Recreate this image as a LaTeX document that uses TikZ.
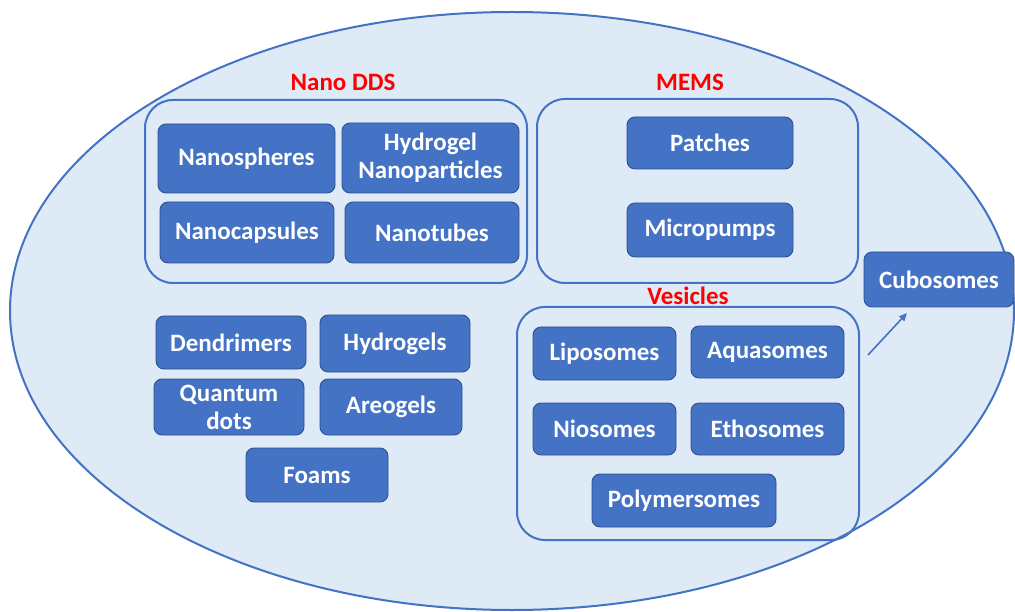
\documentclass[tikz,border=0pt]{standalone}
\usepackage{fontspec}
\setmainfont{Carlito}
\usetikzlibrary{arrows.meta,shapes.geometric}
\definecolor{bgblue}{HTML}{DEEAF6}
\definecolor{lineblue}{HTML}{4472C4}
\definecolor{boxblue}{HTML}{4472C4}
\definecolor{boxedge}{HTML}{2F528F}
\definecolor{labelred}{HTML}{FF0000}
\tikzset{
  itembox/.style={draw=boxedge, fill=boxblue, line width=0.9pt, rounded corners=8pt,
    text=white, inner sep=0pt, align=center,
    font=\fontsize{25}{28}\selectfont\bfseries},
  groupbox/.style={draw=lineblue, line width=2pt, rounded corners=28pt, inner sep=0pt},
  grouplabel/.style={text=labelred, inner sep=0pt, font=\fontsize{25}{28}\selectfont\bfseries},
}
\begin{document}
\begin{tikzpicture}[x=1pt,y=-1pt]
\useasboundingbox (0,0) rectangle (1015,612);
% outer region
\node[draw=lineblue, fill=bgblue, line width=2pt, ellipse, minimum width=1004pt, minimum height=598pt, inner sep=0pt] (outer) at (512,311) {};

% Nano DDS group
\node[grouplabel] (nanolbl) at (343,82) {Nano DDS};
\node[groupbox, minimum width=382pt, minimum height=183pt] (nanogrp) at (336,191.5) {};
\node[itembox, minimum width=177pt, minimum height=69pt] (nanospheres) at (246.5,158.5) {Nanospheres};
\node[itembox, minimum width=177pt, minimum height=70pt] (hydrogelnp) at (430.5,158) {Hydrogel\\Nanoparticles};
\node[itembox, minimum width=174pt, minimum height=61pt] (nanocaps) at (247,232.5) {Nanocapsules};
\node[itembox, minimum width=174pt, minimum height=61pt] (nanotubes) at (432,232.5) {Nanotubes};

% MEMS group
\node[grouplabel] (memslbl) at (690,82) {MEMS};
\node[groupbox, minimum width=321pt, minimum height=184pt] (memsgrp) at (697.5,191) {};
\node[itembox, minimum width=166pt, minimum height=52pt] (patches) at (710,143) {Patches};
\node[itembox, minimum width=166pt, minimum height=54pt] (micropumps) at (710,230) {Micropumps};

% Cubosomes
\node[itembox, minimum width=150pt, minimum height=55pt] (cubosomes) at (939,279.5) {Cubosomes};

% Vesicles group
\node[grouplabel] (veslbl) at (688,296) {Vesicles};
\node[groupbox, minimum width=342pt, minimum height=233pt] (vesgrp) at (688,423.5) {};
\node[itembox, minimum width=143pt, minimum height=53pt] (liposomes) at (604.5,353.5) {Liposomes};
\node[itembox, minimum width=153pt, minimum height=52pt] (aquasomes) at (767.5,352) {Aquasomes};
\node[itembox, minimum width=143pt, minimum height=52pt] (niosomes) at (604.5,429) {Niosomes};
\node[itembox, minimum width=153pt, minimum height=52pt] (ethosomes) at (767.5,429) {Ethosomes};
\node[itembox, minimum width=184pt, minimum height=53pt] (polymersomes) at (684,500.5) {Polymersomes};

% Other carriers
\node[itembox, minimum width=150pt, minimum height=53pt] (dendrimers) at (231,342.5) {Dendrimers};
\node[itembox, minimum width=150pt, minimum height=57pt] (hydrogels) at (395,343.5) {Hydrogels};
\node[itembox, minimum width=150pt, minimum height=56pt] (qdots) at (229,407) {Quantum\\dots};
\node[itembox, minimum width=142pt, minimum height=56pt] (areogels) at (391,407) {Areogels};
\node[itembox, minimum width=142pt, minimum height=54pt] (foams) at (317,475) {Foams};

% arrow pointing to Cubosomes
\coordinate (arrstart) at (868,355);
\coordinate (arrend) at (907,313);
\draw[lineblue, line width=1.6pt, -{Triangle[length=8pt,width=7pt]}] (arrstart) -- (arrend);
\end{tikzpicture}
\end{document}
